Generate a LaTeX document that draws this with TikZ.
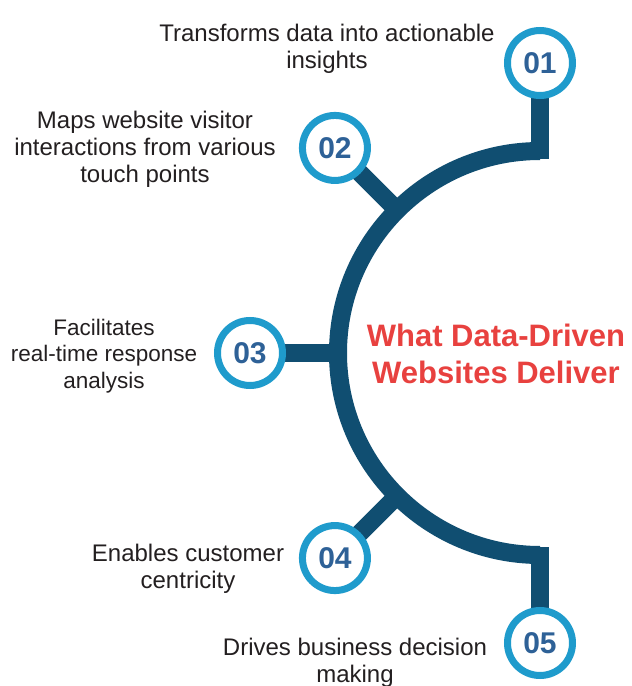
\documentclass[tikz,border=0pt]{standalone}
\usepackage{fontspec}
\setmainfont{Liberation Sans}
\definecolor{navy}{HTML}{104E71}
\definecolor{ringblue}{HTML}{1F9BCC}
\definecolor{numblue}{HTML}{2E6197}
\definecolor{titlered}{HTML}{E8413F}
\definecolor{textgray}{HTML}{231F20}

\begin{document}
\begin{tikzpicture}[x = 1pt, y = 1pt,
	band/.style = {navy, line width = 18pt},
	badge/.style = {circle, draw = ringblue, line width = 7pt, fill = white, minimum size = 65pt, inner sep = 0pt, text = numblue, font = \bfseries\fontsize{30}{30}\selectfont},
	info/.style = {align = center, inner sep = 0pt, text = textgray, font = \fontsize{24}{27}\selectfont}]
	%	setup
	
	\def\rarc{202}
	\def\rin{194}
	\def\rbadge{290}
	
	\useasboundingbox (-540, -333) rectangle (92, 353);
	
	%	half circle
	\draw[band] (90:\rarc) arc (90:270:\rarc);
	
	%	spokes
	\coordinate (a1) at (90:\rin);
	\coordinate (a2) at (135:\rin);
	\coordinate (a3) at (180:\rin);
	\coordinate (a4) at (225:\rin);
	\coordinate (a5) at (270:\rin);
	\coordinate (p1) at (90:\rbadge);
	\coordinate (p2) at (135:\rbadge);
	\coordinate (p3) at (180:\rbadge);
	\coordinate (p4) at (225:\rbadge);
	\coordinate (p5) at (270:\rbadge);
	\draw[band] (a1) -- (p1);
	\draw[band] (a2) -- (p2);
	\draw[band] (a3) -- (p3);
	\draw[band] (a4) -- (p4);
	\draw[band] (a5) -- (p5);
	
	%	badges
	\node[badge] (c1) at (p1) {01};
	\node[badge] (c2) at (p2) {02};
	\node[badge] (c3) at (p3) {03};
	\node[badge] (c4) at (p4) {04};
	\node[badge] (c5) at (p5) {05};
	
	%	texts
	\node[info] (t1) at (-213, 304) {Transforms data into actionable\\insights};
	\node[info] (t2) at (-395, 204) {Maps website visitor\\interactions from various\\touch points};
	\node[info, font = \fontsize{22.5}{26.5}\selectfont] (t3) at (-436, -3) {Facilitates\\real-time response\\analysis};
	\node[info] (t4) at (-352, -216) {Enables customer\\centricity};
	\node[info] (t5) at (-185, -310) {Drives business decision\\making};
	
	\node[align = center, inner sep = 0pt, text = titlered, font = \bfseries\fontsize{31}{37}\selectfont] (title) at (-44, -1) {What Data-Driven\\Websites Deliver};
\end{tikzpicture}
\end{document}
